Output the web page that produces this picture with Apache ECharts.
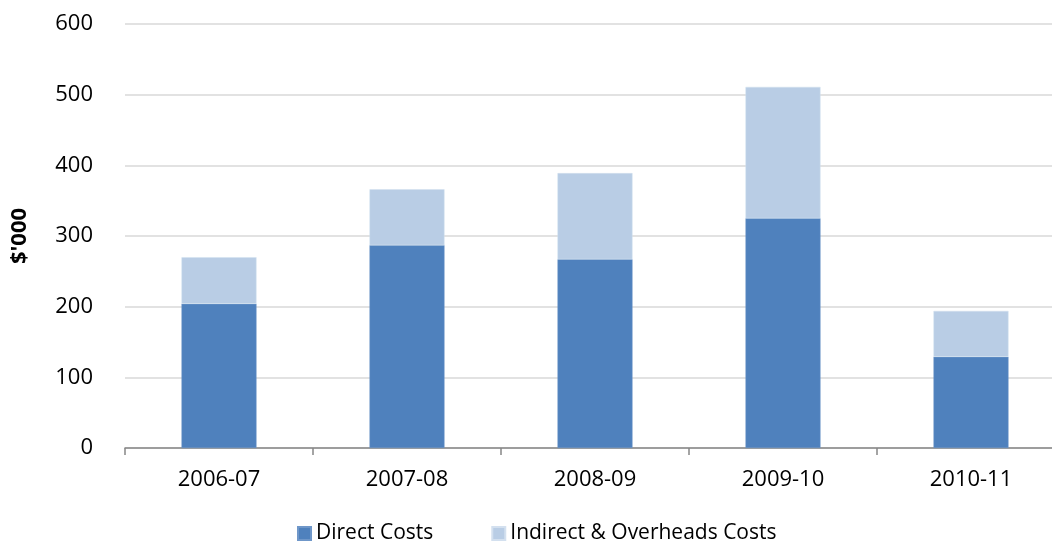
<!DOCTYPE html>
<html><head><meta charset="utf-8">
<script src="https://cdn.jsdelivr.net/npm/echarts@6/dist/echarts.min.js"></script>
<style>html,body{margin:0;padding:0;background:#fff}#c{width:1052px;height:547px}</style>
</head><body><div id="c"></div>
<script>
const categories = ['2006-07','2007-08','2008-09','2009-10','2010-11'];
const directCosts = [204, 287, 267, 325, 129];
const indirectCosts = [66, 79, 122, 186, 65];
const seriesNames = ['Direct Costs', 'Indirect & Overheads Costs'];
const yTicks = {min: 0, max: 600, interval: 100};

const font = '"Open Sans", "Liberation Sans", sans-serif';
const chart = echarts.init(document.getElementById('c'), null, {renderer: 'canvas'});
chart.setOption({
  animation: false,
  textStyle: {fontFamily: font},
  grid: {left: 125, top: 24, bottom: 99, width: 940, containLabel: false, outerBoundsMode: 'none'},
  legend: {
    bottom: -2, left: 292, itemWidth: 13, itemHeight: 13, itemGap: 58,
    icon: 'rect',
    textStyle: {fontSize: 21, color: '#000', fontFamily: font},
    data: seriesNames
  },
  xAxis: {
    type: 'category', data: categories,
    axisLine: {lineStyle: {color: '#868686', width: 1.5}},
    axisTick: {show: true, length: 7, lineStyle: {color: '#868686', width: 1.5}},
    axisLabel: {fontSize: 22, color: '#000', margin: 21, fontFamily: font}
  },
  yAxis: {
    type: 'value', min: yTicks.min, max: yTicks.max, interval: yTicks.interval,
    name: "$'000", nameLocation: 'middle', nameGap: 94, nameRotate: 90,
    nameTextStyle: {fontSize: 22, fontWeight: 'bold', color: '#000', fontFamily: font},
    axisLine: {show: false}, axisTick: {show: false},
    axisLabel: {fontSize: 22, color: '#000', margin: 32, fontFamily: font},
    splitLine: {lineStyle: {color: '#D9D9D9', width: 1.5}}
  },
  series: [
    {name: seriesNames[0], type: 'bar', stack: 'a', data: directCosts, barWidth: 75,
     itemStyle: {color: '#4F81BD', borderColor: '#6f97c9', borderWidth: 0.5}},
    {name: seriesNames[1], type: 'bar', stack: 'a', data: indirectCosts, barWidth: 75,
     itemStyle: {color: '#B9CDE5', borderColor: '#d3e0ef', borderWidth: 0.5}}
  ]
});
</script></body></html>
